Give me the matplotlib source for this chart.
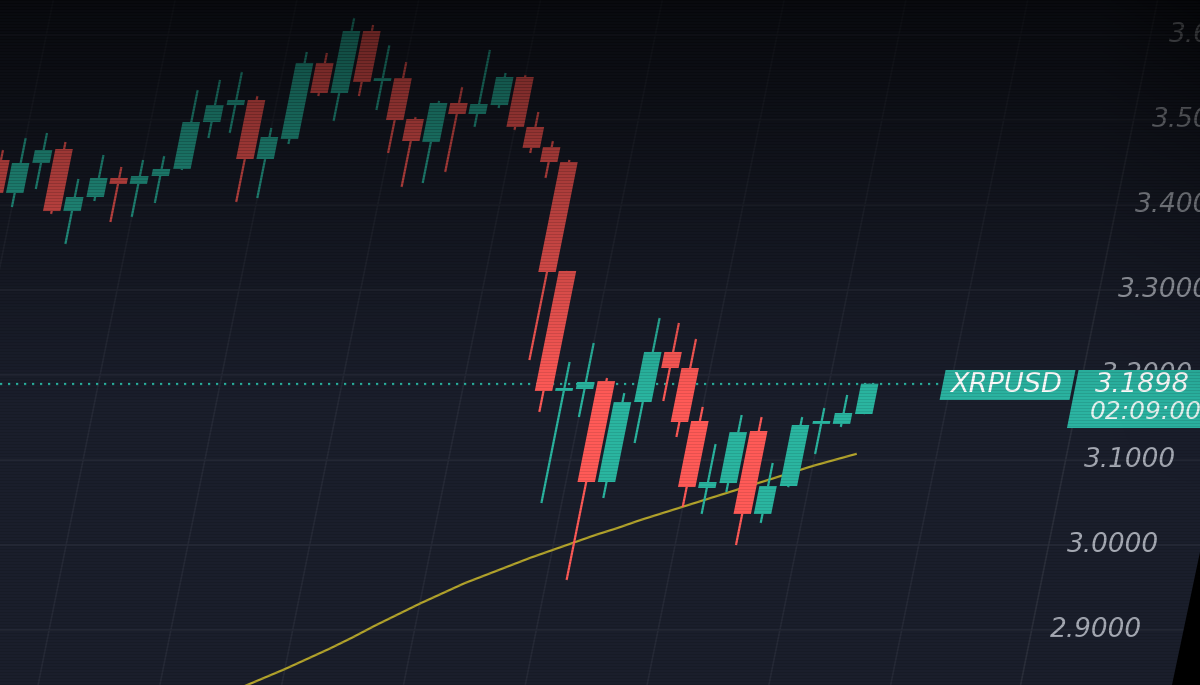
import numpy as np
import matplotlib
matplotlib.use("Agg")
import matplotlib.pyplot as plt
import matplotlib.transforms as mtransforms
from matplotlib.patches import Polygon

# Свечи XRPUSD
opens = [3.4529, 3.4141, 3.4494, 3.4659, 3.3929, 3.4094, 3.4318, 3.4247, 3.4341, 3.4424,
         3.4976, 3.5176, 3.5235, 3.4541, 3.4776, 3.5671, 3.5318, 3.6047, 3.5459, 3.5494,
         3.5012, 3.4741, 3.5200, 3.5071, 3.5176, 3.5506, 3.4918, 3.4682, 3.4506, 3.3224,
         3.1812, 3.1835, 3.1929, 3.0741, 3.1682, 3.2271, 3.2082, 3.1459, 3.0671, 3.0729,
         3.1341, 3.0365, 3.0694, 3.1424, 3.1424, 3.1541]
closes = [3.4141, 3.4494, 3.4647, 3.3929, 3.4094, 3.4318, 3.4247, 3.4341, 3.4424, 3.4976,
          3.5176, 3.5235, 3.4541, 3.4800, 3.5671, 3.5318, 3.6047, 3.5447, 3.5494, 3.5000,
          3.4753, 3.5200, 3.5071, 3.5188, 3.5506, 3.4918, 3.4671, 3.4506, 3.3212, 3.1812,
          3.1847, 3.1918, 3.0741, 3.1682, 3.2271, 3.2082, 3.1447, 3.0682, 3.0741, 3.1329,
          3.0365, 3.0694, 3.1412, 3.1435, 3.1553, 3.1898]
highs = [3.4647, 3.4788, 3.4847, 3.4741, 3.4306, 3.4588, 3.4447, 3.4529, 3.4576, 3.5353,
         3.5471, 3.5565, 3.5282, 3.4906, 3.5800, 3.5788, 3.6200, 3.6118, 3.5880, 3.5680,
         3.5035, 3.5224, 3.5388, 3.5824, 3.5553, 3.5529, 3.5094, 3.4753, 3.4530, 3.3224,
         3.2153, 3.2376, 3.1965, 3.1788, 3.2671, 3.2612, 3.2424, 3.1624, 3.1188, 3.1529,
         3.1506, 3.0965, 3.1506, 3.1612, 3.1765, 3.1898]
lows = [3.4059, 3.3976, 3.4188, 3.3894, 3.3541, 3.4047, 3.3800, 3.3859, 3.4024, 3.4412,
        3.4788, 3.4847, 3.4035, 3.4082, 3.4718, 3.5282, 3.4988, 3.5282, 3.5118, 3.4612,
        3.4212, 3.4259, 3.4388, 3.4918, 3.5141, 3.4882, 3.4612, 3.4318, 3.2176, 3.1565,
        3.0494, 3.1506, 2.9588, 3.0553, 3.1200, 3.1694, 3.1271, 3.0447, 3.0365, 3.0624,
        3.0000, 3.0259, 3.0680, 3.1070, 3.1388, 3.1540]

# скользящая средняя (жёлтая линия)
ma_start = 16
ma_vals = [2.821, 2.832, 2.843, 2.854, 2.866, 2.878, 2.891, 2.905, 2.918, 2.931,
           2.943, 2.955, 2.965, 2.975, 2.985, 2.994, 3.003, 3.012, 3.020, 3.029,
           3.037, 3.045, 3.053, 3.061, 3.069, 3.077, 3.085, 3.093, 3.100, 3.107]

price_ticks = [2.9, 3.0, 3.1, 3.2, 3.3, 3.4, 3.5, 3.6]
last_price = 3.1898
symbol = "XRPUSD"
countdown = "02:09:00"

BG = "#1a1e2b"
UP = "#2ab5a0"
DOWN = "#ff5a57"
TEAL = "#2bb3a1"
MA_COLOR = "#b3a42c"
GRID = "#252936"
LABEL = "#a6aab4"

W, H = 1200, 685
fig = plt.figure(figsize=(W / 100, H / 100), dpi=100, facecolor=BG)
ax = fig.add_axes([0, 0, 1, 1])
ax.set_facecolor(BG)
ax.axis("off")

# сдвиг (наклон) как на фото экрана
k = 8.374
ax.set_xlim(42 / 20.3, (W + 42) / 20.3)
ax.set_ylim(3.2 - 310 / 850, 3.2 + 375 / 850)
shear = mtransforms.Affine2D(np.array([[1.0, k, -k * 3.2],
                                       [0.0, 1.0, 0.0],
                                       [0.0, 0.0, 1.0]])) + ax.transData

# сетка
for p in price_ticks:
    ax.axhline(p, color=GRID, lw=1.2, zorder=0.5)
grid_x = [1, 7, 13, 19, 25, 31, 37, 43, 49]
ax.vlines(grid_x, 2.5, 3.8, colors=GRID, lw=1.2, transform=shear, zorder=0.5)
ax.vlines([55.4], 2.5, 3.8, colors="#2a2e3a", lw=1.2, transform=shear, zorder=0.5)

# пунктир последней цены
ax.axhline(last_price, xmin=0, xmax=943 / W, color=TEAL, lw=1.6,
           linestyle=(0, (1, 2.6)), zorder=1.5)

# скользящая средняя
ma_x = np.arange(ma_start, ma_start + len(ma_vals))
ax.plot(ma_x, ma_vals, color=MA_COLOR, lw=1.6, transform=shear, zorder=2)

# свечи
o = np.array(opens)
c = np.array(closes)
idx = np.arange(len(o))
cols = [UP if cc >= oo else DOWN for oo, cc in zip(o, c)]
ax.vlines(idx, lows, highs, colors=cols, lw=1.6, transform=shear, zorder=3)
body = np.maximum(np.abs(c - o), 0.0035)
ax.bar(idx, body, bottom=np.minimum(o, c), width=0.86, color=cols,
       transform=shear, zorder=4, linewidth=0)

# подписи шкалы цен
for p in price_ticks:
    ax.text(56.3, p, f"{p:.4f}", transform=shear, color=LABEL, fontsize=19,
            style="italic", va="center", ha="left", zorder=5, clip_on=True)

# плашки тикера и цены
ax.add_patch(Polygon([(48.6, 3.1706), (55.0, 3.1706), (55.0, 3.2059), (48.6, 3.2059)],
                     closed=True, facecolor=TEAL, edgecolor="none",
                     transform=shear, zorder=6))
ax.add_patch(Polygon([(55.15, 3.1376), (64, 3.1376), (64, 3.2059), (55.15, 3.2059)],
                     closed=True, facecolor=TEAL, edgecolor="none",
                     transform=shear, zorder=6))
ax.text(51.75, 3.1885, symbol, transform=shear, color="white", fontsize=19.5,
        style="italic", va="center", ha="center", zorder=7)
ax.text(56.1, 3.1885, f"{last_price:.4f}", transform=shear, color="white",
        fontsize=19.5, style="italic", va="center", ha="left", zorder=7)
ax.text(56.1, 3.1570, countdown, transform=shear, color="#e8f6f3",
        fontsize=18, style="italic", va="center", ha="left", zorder=7, clip_on=True)

# затемнение сверху + строки развёртки экрана
yy = np.arange(H)
alpha = 0.66 * np.clip(1 - yy / 400.0, 0, 1) ** 1.1
alpha = alpha + np.where(yy % 3 == 0, 0.10, 0.0)
xx = np.arange(W)
alpha2d = alpha[:, None] + 0.12 * np.clip((xx[None, :] - 1100) / 100.0, 0, 1) * np.clip(1 - yy[:, None] / 500.0, 0, 1)
overlay = np.zeros((H, W, 4))
overlay[..., 3] = np.clip(alpha2d, 0, 0.95)
ax.imshow(overlay, extent=[0, 1, 0, 1], transform=ax.transAxes, aspect="auto",
          interpolation="nearest", zorder=10)

# край экрана справа внизу
ax.add_patch(Polygon([(1.0, 1 - 552 / H), (1172 / W, 0.0), (1.0, 0.0)], closed=True,
                     facecolor="black", edgecolor="none", transform=ax.transAxes, zorder=11))

fig.savefig("out.png", dpi=100, facecolor=BG)
